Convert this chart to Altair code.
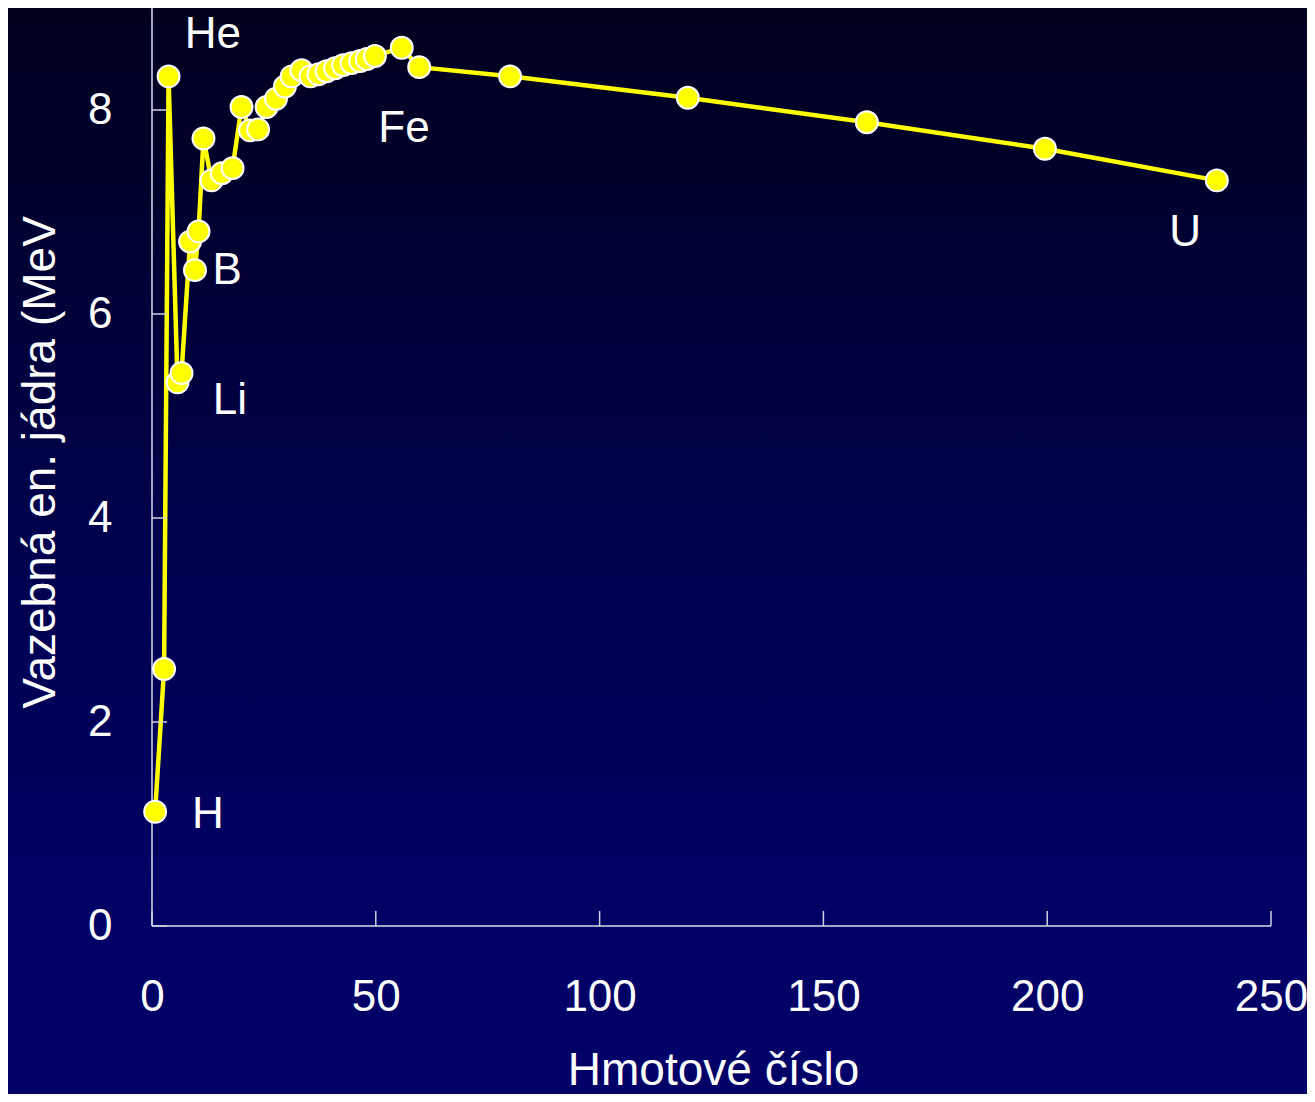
import altair as alt
import pandas as pd

# ---- data ----
mass_number = [0.7, 2.7, 3.7, 5.7, 6.6, 8.5, 9.6, 10.4, 11.5, 13.3, 15.6, 18.0, 20.0,
               21.9, 23.7, 25.6, 27.7, 29.7, 31.2, 33.4, 35.4, 37.2, 39.0, 40.9, 42.7,
               44.6, 46.5, 48.0, 49.8, 55.8, 59.7, 80.0, 119.7, 159.7, 199.5, 237.9]
binding_energy = [1.12, 2.52, 8.33, 5.33, 5.42, 6.71, 6.43, 6.81, 7.72, 7.31, 7.38, 7.43, 8.03,
                  7.80, 7.81, 8.03, 8.11, 8.23, 8.33, 8.39, 8.33, 8.35, 8.38, 8.41, 8.44,
                  8.46, 8.48, 8.50, 8.53, 8.61, 8.42, 8.33, 8.12, 7.88, 7.62, 7.31]

label_text = ["He", "Fe", "Li", "B", "H", "U"]
label_x = [13.6, 56.3, 17.4, 16.8, 12.5, 230.8]
label_y = [8.61, 7.69, 5.02, 6.29, 0.96, 6.67]

x_ticks = [0, 50, 100, 150, 200, 250]
y_ticks = [0, 2, 4, 6, 8]

x_title = "Hmotové číslo"
y_title = "Vazebná en. jádra (MeV"

# ---- layout ----
W, H = 1299, 1086
X_DOMAIN = [-32.17, 258.04]
Y_DOMAIN = [-1.647, 9.0]
FONT = "Liberation Sans"
AXIS_COLOR = "#a4a4c4"

pts = pd.DataFrame({"A": mass_number, "E": binding_energy})
lbl = pd.DataFrame({"x": label_x, "y": label_y, "t": label_text})
xt = pd.DataFrame({"v": x_ticks, "z": [0] * len(x_ticks)})
yt = pd.DataFrame({"v": y_ticks, "z": [0] * len(y_ticks)})
xdom = pd.DataFrame({"a": [0], "b": [250], "z": [0]})
ydom = pd.DataFrame({"a": [0], "b": [9], "z": [0]})

xs = alt.Scale(domain=X_DOMAIN, nice=False, zero=False)
ys = alt.Scale(domain=Y_DOMAIN, nice=False, zero=False)

x_axis = alt.Axis(values=x_ticks, title=x_title, domain=False, ticks=False, tickSize=0,
                  grid=False, labelPadding=-119,
                  labelOverlap=False, labelFlush=False, labelColor="white",
                  labelFont=FONT, labelFontSize=44, titleFont=FONT, titleFontSize=46,
                  titleFontWeight="normal", titleColor="white",
                  titleX=705, titleY=-10, titleBaseline="alphabetic", titleAlign="center")
y_axis = alt.Axis(values=y_ticks, title=y_title, domain=False, ticks=False, tickSize=0,
                  grid=False, labelPadding=40, offset=-144,
                  labelOverlap=False, labelFlush=False, labelColor="white",
                  labelFont=FONT, labelFontSize=44, titleFont=FONT, titleFontSize=46,
                  titleFontWeight="normal", titleColor="white",
                  titleX=-112, titleY=454, titleAngle=-90, titleBaseline="middle",
                  titleAlign="center")


def X(field):
    return alt.X(field, scale=xs, axis=x_axis)


def Y(field):
    return alt.Y(field, scale=ys, axis=y_axis)


# vertical navy gradient for the whole canvas (view covers the full canvas)
grad_expr = ("{gradient: 'linear', x1: 0, y1: 0, x2: 0, y2: 1, stops: ["
             "{offset: 0, color: '#00001e'}, {offset: 0.5, color: '#00004e'}, "
             "{offset: 0.85, color: '#000066'}, {offset: 1, color: '#000068'}]}")

line = alt.Chart(pts).mark_line(color="#ffff00", strokeWidth=4.5).encode(
    x=X("A:Q"), y=Y("E:Q"))

x_dom = alt.Chart(xdom).mark_rule(color=AXIS_COLOR, strokeWidth=2).encode(
    x=X("a:Q"), x2="b:Q", y=Y("z:Q"))
y_dom = alt.Chart(ydom).mark_rule(color=AXIS_COLOR, strokeWidth=2).encode(
    y=Y("a:Q"), y2="b:Q", x=X("z:Q"))

x_tk = alt.Chart(xt).mark_tick(orient="vertical", size=15, thickness=1.5,
                               color="#d0d0e0", yOffset=-7.5, opacity=1).encode(
    x=X("v:Q"), y=Y("z:Q"))
y_tk = alt.Chart(yt).mark_tick(orient="horizontal", size=15, thickness=1.5,
                               color="#d0d0e0", xOffset=7.5, opacity=1).encode(
    y=Y("v:Q"), x=X("z:Q"))

points = alt.Chart(pts).mark_circle(color="#ffff00", stroke="white", strokeWidth=2,
                                    size=480, opacity=1).encode(
    x=X("A:Q"), y=Y("E:Q"))

labels = alt.Chart(lbl).mark_text(font=FONT, fontSize=44, color="white",
                                  align="center", baseline="alphabetic").encode(
    x=X("x:Q"), y=Y("y:Q"), text="t:N")

chart = alt.layer(line, x_dom, y_dom, x_tk, y_tk, points, labels).properties(
    width=W, height=H, padding=0,
    autosize=alt.AutoSizeParams(type="none"),
    background="#000040",
    view=alt.ViewBackground(fill=alt.ExprRef(expr=grad_expr)),
).configure_view(stroke=None)

chart.save("out.html", embed_options={"renderer": "svg", "actions": False})
